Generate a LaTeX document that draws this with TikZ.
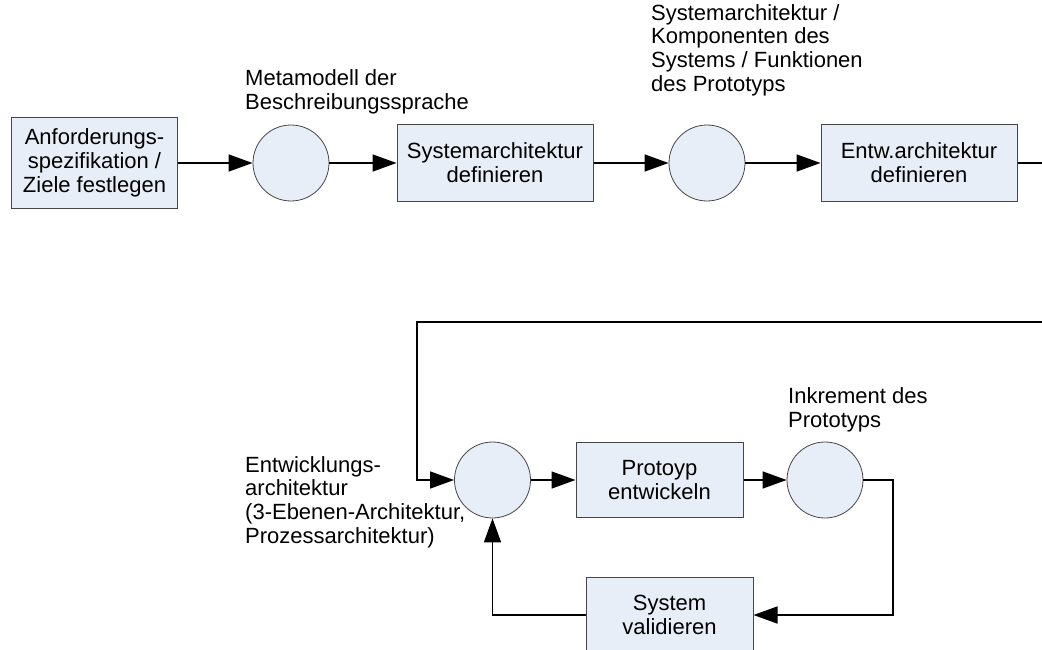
\documentclass[tikz,border=0pt]{standalone}
\usepackage{fontspec}
\setmainfont{Liberation Sans}
\usetikzlibrary{arrows.meta}
\definecolor{boxfill}{RGB}{232,238,247}
\definecolor{boxline}{RGB}{70,70,70}
\tikzset{
  stepbox/.style={draw=boxline, line width=1pt, fill=boxfill, align=center,
    inner sep=0pt, font=\fontsize{22}{24}\selectfont},
  state/.style={circle, draw=boxline, line width=0.8pt, fill=boxfill,
    minimum size=76pt, inner sep=0pt},
  lbl/.style={align=left, inner sep=0pt, anchor=west,
    font=\fontsize{22}{23.7}\selectfont},
  flow/.style={line width=1.5pt, -{Triangle[length=24pt,width=17pt]}},
  plain/.style={line width=1.5pt}
}
\begin{document}
\begin{tikzpicture}[x=1pt,y=-1pt]
  \clip (0,0) rectangle (1042,650);
  \useasboundingbox (0,0) rectangle (1042,650);

  % upper process chain
  \node[stepbox, minimum width=166pt, minimum height=90pt] (req) at (94.5,163)
    {Anforderungs-\\spezifikation /\\Ziele festlegen};
  \node[state] (meta) at (291,163) {};
  \node[stepbox, minimum width=196pt, minimum height=76pt] (sysarch) at (495,163)
    {Systemarchitektur\\definieren};
  \node[state] (comp) at (707,163) {};
  \node[stepbox, minimum width=196pt, minimum height=76pt] (entw) at (919,163)
    {Entw.architektur\\definieren};

  % lower iteration loop
  \node[state] (dev) at (492.5,480) {};
  \node[stepbox, minimum width=167pt, minimum height=75pt] (proto) at (659.5,480)
    {Protoyp\\entwickeln};
  \node[state] (inc) at (825,480) {};
  \node[stepbox, minimum width=167pt, minimum height=76pt] (valid) at (669.5,615)
    {System\\validieren};

  % labels of the artefacts
  \node[lbl] (lmeta) at (245,91.5) {Metamodell der\\Beschreibungssprache};
  \node[lbl] (lcomp) at (651,50) {Systemarchitektur /\\Komponenten des\\Systems / Funktionen\\des Prototyps};
  \node[lbl] (linc) at (788,410) {Inkrement des\\Prototyps};
  \node[lbl] (ldev) at (245,502) {Entwicklungs-\\architektur\\(3-Ebenen-Architektur,\\Prozessarchitektur)};

  % connectors
  \coordinate (r1) at (1060,163);
  \coordinate (r2) at (1060,322);
  \coordinate (l1) at (417,322);
  \coordinate (l2) at (417,480);
  \coordinate (f1) at (893,480);
  \coordinate (f2) at (893,615);
  \coordinate (g1) at (492.5,615);

  \draw[flow] (req) -- (meta);
  \draw[flow] (meta) -- (sysarch);
  \draw[flow] (sysarch) -- (comp);
  \draw[flow] (comp) -- (entw);
  \draw[flow] (entw.east) -- (r1) -- (r2) -- (l1) -- (l2) -- (dev.west);
  \draw[flow] (dev) -- (proto);
  \draw[flow] (proto) -- (inc);
  \draw[flow] (inc.east) -- (f1) -- (f2) -- (valid.east);
  \draw[flow] (valid.west) -- (g1) -- (dev.south);
\end{tikzpicture}
\end{document}
